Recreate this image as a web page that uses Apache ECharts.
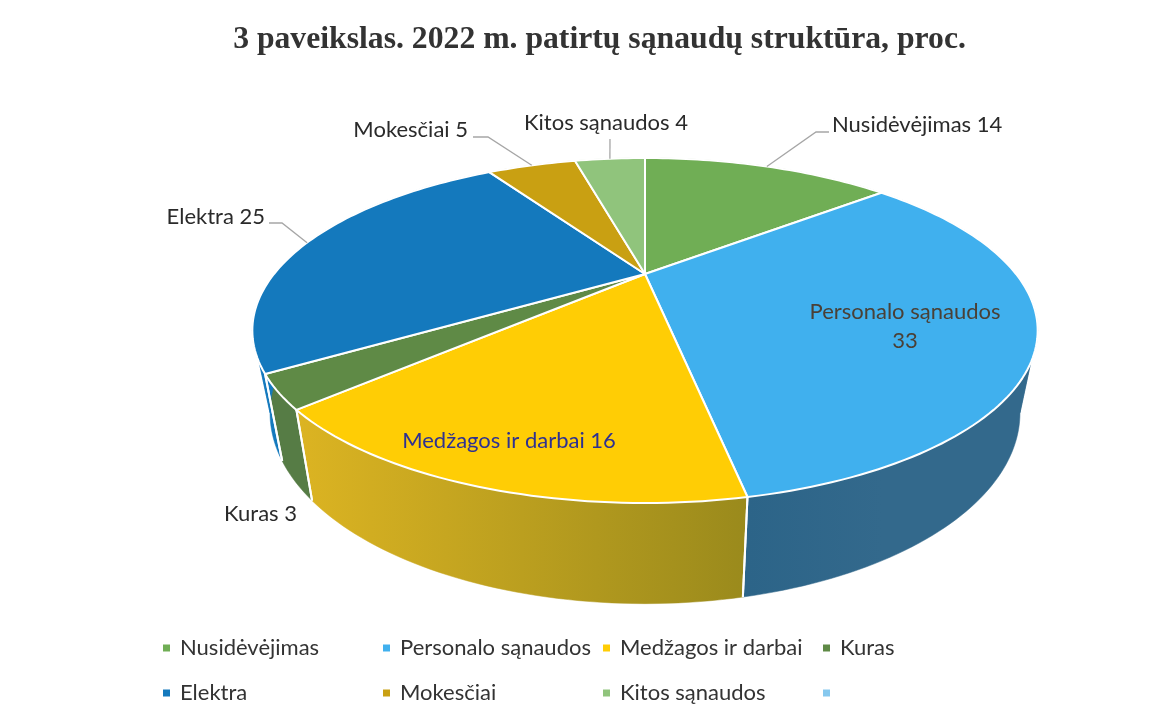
<!DOCTYPE html>
<html><head><meta charset="utf-8">
<style>html,body{margin:0;padding:0;background:#fff}#c{width:1163px;height:721px}</style>
<script src="https://cdn.jsdelivr.net/npm/echarts@6/dist/echarts.min.js"></script>
</head><body><div id="c"></div>
<script>
// ---- data ----
const titleText = '3 paveikslas. 2022 m. patirtų sąnaudų struktūra, proc.';
const categories = ['Nusidėvėjimas','Personalo sąnaudos','Medžagos ir darbai','Kuras','Elektra','Mokesčiai','Kitos sąnaudos'];
const values = [14,33,16,3,25,5,4];
const blankCategory = '\u00a0';
// ---- styles ----
const topColors = ['#70ae55','#40b0ee','#ffcd05','#5f8a46','#1479bd','#c9a012','#90c47c'];
const wallLeft  = ['#55843f','#2c6488','#dcb422','#567c45','#1479bd','#95790e','#6c955d'];
const wallRight = ['#55843f','#33698c','#9a8a1c','#567c45','#1479bd','#95790e','#6c955d'];
const blankColor = '#86c8ee';
const legendX = [163,383,603,823,163,383,603,823];
const legendY = [637,637,637,637,682,682,682,682];
const labelLayout = [
  {x:832,y:125,align:'left',fill:'#2a2a2a',elbow:[[829,132],[816,132]]},
  {x:905,y:326,align:'center',fill:'#4a4036',lh:29},
  {x:509,y:441,align:'center',fill:'#2e3192'},
  {x:297,y:514,align:'right',fill:'#2a2a2a'},
  {x:265,y:217,align:'right',fill:'#2a2a2a',elbow:[[269,223],[282,223]]},
  {x:468,y:130,align:'right',fill:'#2a2a2a',elbow:[[473,137],[488,137]]},
  {x:524,y:123,align:'left',fill:'#2a2a2a',elbow:[[610,139]]}
];
// ---- perspective disc ----
const P = {cx:645,cy:274,a:371,b:154,k:0.3275,sx:0.955,depth:100,dy:0.106,fy:497};
const rad = p => p*3.6*Math.PI/180;
const foldA = Math.acos(-P.k)*180/Math.PI/3.6, foldB = 100-foldA;
function rim(p){const t=rad(p),d=1+P.k*Math.cos(t);
  return [P.cx+P.a*Math.sin(t)/d, P.cy-P.b*Math.cos(t)/d];}
function low(pt){return [P.cx+(pt[0]-P.cx)*P.sx, pt[1]+P.depth+P.dy*(pt[1]-P.fy)];}
function arc(p0,p1){const n=Math.max(2,Math.ceil((p1-p0)*3)),o=[];
  for(let i=0;i<=n;i++)o.push(rim(p0+(p1-p0)*i/n));return o;}
let acc=0; const spans=values.map(v=>{const s=[acc,acc+v];acc+=v;return s;});
const base=(name,z,rend,data)=>({type:'custom',name,coordinateSystem:'none',z,silent:true,animation:false,renderItem:rend,data});

const series=[];
categories.forEach((name,i)=>{
  series.push(base(name,3,(p,api)=>{
    const a=arc(api.value(0),api.value(1));
    return {type:'polygon',shape:{points:[[P.cx,P.cy]].concat(a)},
      style:{fill:topColors[i],stroke:'#fff',lineWidth:2,lineJoin:'round'}};
  },[spans[i]]));
});
categories.forEach((name,i)=>{
  series.push(base(name,2,(p,api)=>{
    const s=api.value(0),e=api.value(1);
    const ends=[rim(s),rim(e)];
    const x0=Math.min(ends[0][0],ends[1][0]),x1=Math.max(ends[0][0],ends[1][0]);
    const fill=new echarts.graphic.LinearGradient(x0,0,x1,0,
      [{offset:0,color:wallLeft[i]},{offset:1,color:wallRight[i]}],true);
    const ln=q=>({type:'line',z2:2,shape:{x1:q[0],y1:q[1],x2:low(q)[0],y2:low(q)[1]},style:{stroke:'#fff',lineWidth:2}});
    const cuts=[s].concat([foldA,foldB].filter(f=>f>s&&f<e),[e]);
    const parts=[];
    for(let j=0;j<cuts.length-1;j++){
      const a=arc(cuts[j],cuts[j+1]);
      parts.push({type:'polygon',z2:1,shape:{points:a.concat(a.map(low).reverse())},
        style:{fill,stroke:fill,lineWidth:0.5}});
    }
    return {type:'group',children:parts.concat([ln(ends[0]),ln(ends[1])])};
  },[spans[i]]));
});
series.push(base(blankCategory,1,()=>null,[]));
series.push(base('labels',4,(p,api)=>{
  const i=p.dataIndex,L=labelLayout[i],ch=[];
  if(L.elbow){const m=rim((spans[i][0]+spans[i][1])/2);
    ch.push({type:'polyline',shape:{points:L.elbow.concat([m])},style:{fill:'none',stroke:'#a6a6a6',lineWidth:1.3}});}
  ch.push({type:'text',style:{x:L.x,y:L.y,text:(i===1?categories[i]+'\n':categories[i]+' ')+values[i],
    fill:L.fill,align:L.align,verticalAlign:'middle',font:'22px Lato',lineHeight:L.lh||24}});
  return {type:'group',children:ch};
},categories.map((c,i)=>[i])));

const legend=categories.concat([blankCategory]).map((n,i)=>({
  left:legendX[i],top:legendY[i],padding:0,icon:'rect',itemWidth:7,itemHeight:7,selectedMode:false,
  textStyle:{fontFamily:'Lato',fontSize:22,color:'#333',padding:[0,0,0,5]},
  data:[{name:n,icon:'rect',itemStyle:{color:i<7?topColors[i]:blankColor}}]
}));

const chart=echarts.init(document.getElementById('c'),null,{renderer:'canvas'});
chart.setOption({
  backgroundColor:'#fff',animation:false,
  title:{text:titleText,left:594.5,top:19,textAlign:'center',
    textStyle:{fontFamily:'Liberation Serif',fontSize:31.7,fontWeight:'bold',color:'#333'}},
  tooltip:{show:false},legend,series
});
</script></body></html>
